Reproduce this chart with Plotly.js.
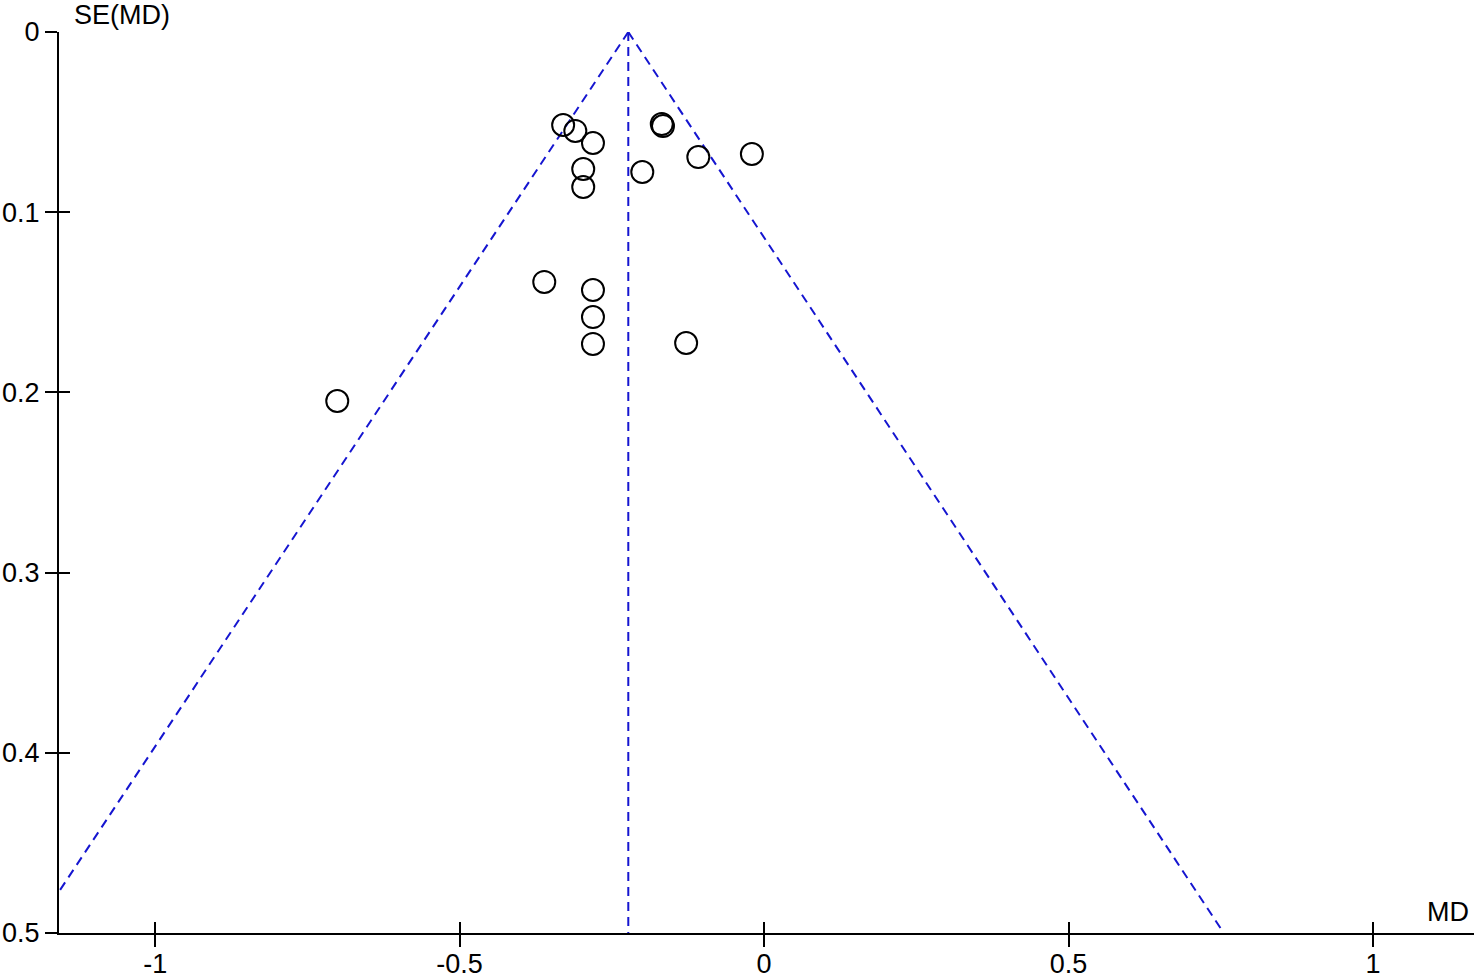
<!DOCTYPE html>
<html>
<head>
<meta charset="utf-8">
<script src="https://cdn.plot.ly/plotly-3.0.1.min.js"></script>
<style>
  html, body { margin: 0; padding: 0; background: #fff; }
  #funnel { width: 1476px; height: 979px; }
</style>
</head>
<body>
<div id="funnel"></div>
<script>
// study estimates
const md = [-0.330, -0.310, -0.281, -0.297, -0.297, -0.168, -0.166, -0.200, -0.108, -0.020,
            -0.361, -0.281, -0.281, -0.281, -0.128, -0.701];
const seMd = [0.0516, 0.0549, 0.0616, 0.0760, 0.0860, 0.0511, 0.0522, 0.0777, 0.0694, 0.0677,
              0.1387, 0.1432, 0.1582, 0.1731, 0.1726, 0.2048];

// funnel outline (pooled MD and 95% limits at SE = 0.5)
const pooledX = [-0.223, -0.223];
const pooledY = [0, 0.5];
const leftX = [-0.223, -1.203];
const leftY = [0, 0.5];
const rightX = [-0.223, 0.755];
const rightY = [0, 0.5];

const xTicks = [-1, -0.5, 0, 0.5, 1];
const yTicks = [0, 0.1, 0.2, 0.3, 0.4, 0.5];

const dash = {color: '#1515d0', width: 2, dash: '9px,6px'};
const font = {family: 'Liberation Sans, Arial, sans-serif', size: 27, color: '#000'};

const traces = [
  {x: leftX, y: leftY, mode: 'lines', line: dash, hoverinfo: 'skip'},
  {x: rightX, y: rightY, mode: 'lines', line: dash, hoverinfo: 'skip'},
  {x: pooledX, y: pooledY, mode: 'lines', line: dash, hoverinfo: 'skip'},
  {
    x: md, y: seMd, mode: 'markers', type: 'scatter',
    marker: {symbol: 'circle-open', size: 22, color: '#000', line: {width: 2, color: '#000'}}
  },
  // invisible trace to carry the inside half of the crossing ticks
  {x: [0], y: [0], xaxis: 'x2', yaxis: 'y2', mode: 'markers', marker: {opacity: 0}, hoverinfo: 'skip'}
];

const xRange = [-1.158, 1.166];
const yRange = [0.5, 0];

const layout = {
  width: 1476, height: 979,
  margin: {l: 59, r: 2, t: 32, b: 46},
  paper_bgcolor: '#fff', plot_bgcolor: '#fff',
  showlegend: false,
  font: font,
  xaxis: {
    range: xRange, tickvals: xTicks, ticktext: ['-1', '-0.5', '0', '0.5', '1'],
    showgrid: false, zeroline: false, showline: true, linecolor: '#000', linewidth: 2,
    ticks: 'outside', ticklen: 12, tickwidth: 2, tickcolor: '#000', tickfont: font,
    ticklabelstandoff: -6
  },
  yaxis: {
    range: yRange, tickvals: yTicks, ticktext: ['0', '0.1', '0.2', '0.3', '0.4', '0.5'],
    showgrid: false, zeroline: false, showline: true, linecolor: '#000', linewidth: 2,
    ticks: 'outside', ticklen: 12, tickwidth: 2, tickcolor: '#000', tickfont: font
  },
  xaxis2: {
    overlaying: 'x', range: xRange, tickvals: xTicks, showticklabels: false,
    showgrid: false, zeroline: false, showline: false,
    ticks: 'inside', ticklen: 11, tickwidth: 2, tickcolor: '#000', anchor: 'y2', side: 'bottom'
  },
  yaxis2: {
    overlaying: 'y', range: yRange, tickvals: yTicks, showticklabels: false,
    showgrid: false, zeroline: false, showline: false,
    ticks: 'inside', ticklen: 11, tickwidth: 2, tickcolor: '#000', anchor: 'x2', side: 'left'
  },
  annotations: [
    {text: 'SE(MD)', xref: 'paper', yref: 'paper', x: 0.009, y: 1, xanchor: 'left', yanchor: 'bottom',
     yshift: 0, showarrow: false, font: font},
    {text: 'MD', xref: 'paper', yref: 'paper', x: 0.998, y: 0, xanchor: 'right', yanchor: 'bottom',
     yshift: 4, showarrow: false, font: font}
  ]
};

Plotly.newPlot('funnel', traces, layout, {displayModeBar: false, staticPlot: true});
</script>
</body>
</html>
